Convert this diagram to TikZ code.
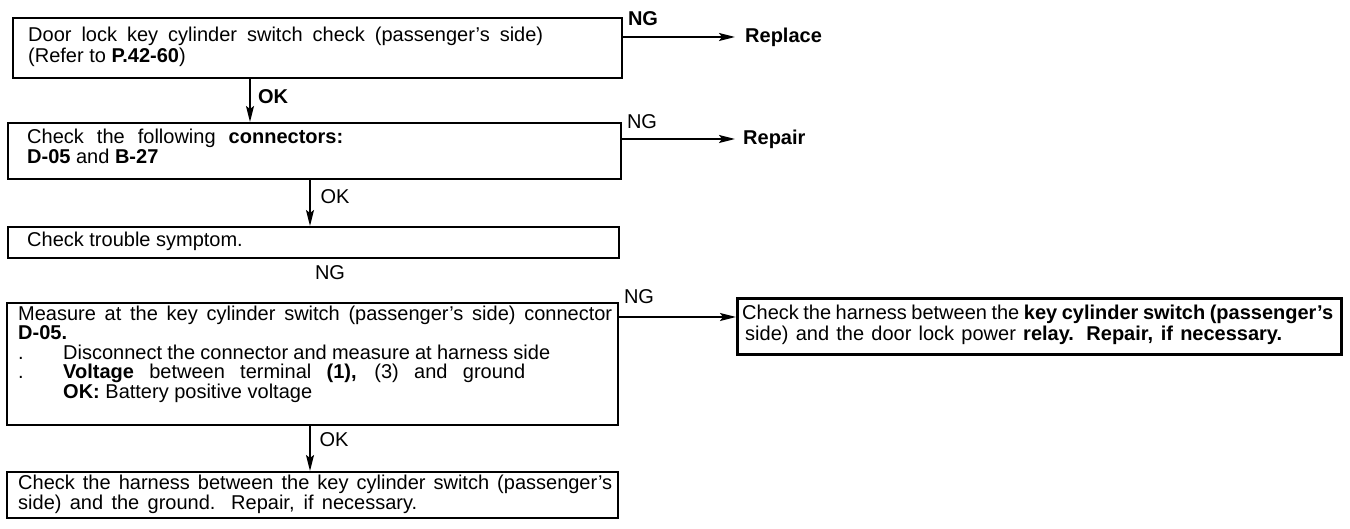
\documentclass[tikz,border=0pt]{standalone}
\usepackage{fontspec}
\setmainfont{Liberation Sans}
\usetikzlibrary{arrows.meta}
\begin{document}
\begin{tikzpicture}[x=1pt,y=-1pt,
  box/.style={draw, line width=2pt, inner sep=0pt, anchor=north west},
  txt/.style={anchor=base west, inner sep=0pt, font=\fontsize{20}{21}\selectfont},
  lbl/.style={inner sep=0pt, font=\fontsize{20}{21}\selectfont},
  lblb/.style={inner sep=0pt, font=\fontsize{20}{21}\selectfont\bfseries},
  arr/.style={line width=1.8pt, -{Stealth[length=16pt,width=8pt,inset=3pt]}},
]
\useasboundingbox (0,0) rectangle (1350,529);
% boxes
\node[box, minimum width=609pt, minimum height=60pt] (b1) at (12,17) {};
\node[box, minimum width=613pt, minimum height=56pt] (b2) at (7,122) {};
\node[box, minimum width=611pt, minimum height=31pt] (b3) at (7,226) {};
\node[box, minimum width=611pt, minimum height=122pt] (b4) at (6,302) {};
\node[box, minimum width=611pt, minimum height=46pt] (b5) at (6,471) {};
\node[box, line width=2.6pt, minimum width=604pt, minimum height=56pt] (rb) at (736,297) {};
% box texts
\node[txt] (t1a) at (28,42) {\makebox[515pt][s]{Door lock key cylinder switch check (passenger's side)}};
\node[txt] (t1b) at (28,63) {(Refer to \textbf{P.42-60})};
\node[txt] (t2a) at (27,144) {\makebox[316pt][s]{Check the following \textbf{connectors:}}};
\node[txt] (t2b) at (27,164) {\textbf{D-05} and \textbf{B-27}};
\node[txt] (t3) at (27,247) {Check trouble symptom.};
\node[txt] (t4a) at (18,321) {\makebox[594pt][s]{Measure at the key cylinder switch (passenger's side) connector}};
\node[txt] (t4b) at (18,340) {\textbf{D-05.}};
\node[txt] (t4c) at (18,360) {.};
\node[txt] (t4d) at (63,360) {\makebox[487pt][s]{Disconnect the connector and measure at harness side}};
\node[txt] (t4e) at (18,379) {.};
\node[txt] (t4f) at (63,379) {\makebox[462pt][s]{\textbf{Voltage} between terminal \textbf{(1),} (3) and ground}};
\node[txt] (t4g) at (63,399) {\textbf{OK:} Battery positive voltage};
\node[txt] (t5a) at (18,489) {\makebox[594pt][s]{Check the harness between the key cylinder switch (passenger's}};
\node[txt] (t5b) at (18,509) {\makebox[399pt][s]{side) and the ground. Repair, if necessary.}};
\node[txt] (tra) at (742,320) {\makebox[591pt][s]{Check the harness between the \textbf{key cylinder switch (passenger's}}};
\node[txt] (trb) at (745,341) {\makebox[537pt][s]{side) and the door lock power \textbf{relay. Repair, if necessary.}}};
% result labels
\node[lblb, anchor=west, inner xsep=10pt] (rep) at (735,37) {Replace};
\node[lblb, anchor=west, inner xsep=8pt] (rpr) at (735,139) {Repair};
% connectors
\coordinate (ax1) at (250,0);
\coordinate (ax) at (310,0);
\coordinate (y1) at (0,37);
\coordinate (y4) at (0,317);
\draw[arr] (b1.south -| ax1) -- (b2.north -| ax1);
\draw[arr] (b2.south -| ax) -- (b3.north -| ax);
\draw[arr] (b4.south -| ax) -- (b5.north -| ax);
\draw[arr] (b1.east |- y1) -- (rep.west);
\draw[arr] (b2.east |- rpr.west) -- (rpr.west);
\draw[arr] (b4.east |- y4) -- (rb.west |- y4);
% branch labels
\node[lblb] (ng1) at (643,19) {NG};
\node[lbl] (ng2) at (642,122) {NG};
\node[lblb] (ok1) at (273,97) {OK};
\node[lbl] (ok2) at (335,197) {OK};
\node[lbl] (ng3) at (330,273) {NG};
\node[lbl] (ng4) at (639,297) {NG};
\node[lbl] (ok5) at (334,440) {OK};
\end{tikzpicture}
\end{document}
